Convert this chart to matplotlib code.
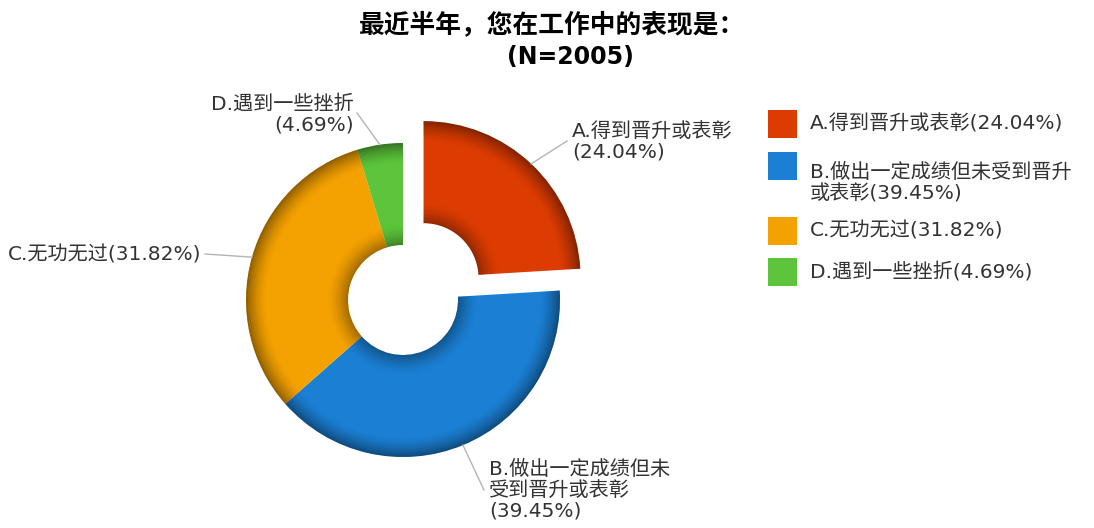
import matplotlib
matplotlib.use("Agg")
import matplotlib.pyplot as plt
from matplotlib.patches import Rectangle
import numpy as np

plt.rcParams['font.family'] = ['DejaVu Sans', 'Noto Sans CJK SC']

# ---------------- data ----------------
title = "最近半年，您在工作中的表现是："
subtitle = "(N=2005)"
categories = ["A.得到晋升或表彰", "B.做出一定成绩但未受到晋升或表彰", "C.无功无过", "D.遇到一些挫折"]
percentages = [24.04, 39.45, 31.82, 4.69]
colors = ["#DC3C02", "#1B80D4", "#F4A102", "#5CC53B"]

# ---------------- layout (pixel units) ----------------
W, H = 1094, 528
fig = plt.figure(figsize=(W / 100, H / 100), dpi=100)
ax = fig.add_axes([0, 0, 1, 1])


def py(y):
    return H - y


cx, cy = 403, 300
R, r_in = 157, 55
explode = [30, 0, 0, 0]
start = 90

# base donut
wedges, _ = ax.pie(percentages, colors=colors, startangle=start, counterclock=False,
                   radius=R, center=(cx, py(cy)), explode=explode,
                   wedgeprops=dict(width=R - r_in, linewidth=0), frame=True)

# bevel shading (dark bands near inner and outer edges)
N = 10
step = 2.0
for j in range(N):
    a = 0.40 * (1 - j / N) ** 1.6
    ax.pie(percentages, colors=['black'] * 4, startangle=start, counterclock=False,
           radius=R - j * step, center=(cx, py(cy)), explode=explode,
           wedgeprops=dict(width=step, linewidth=0, alpha=a), frame=True)
    ax.pie(percentages, colors=['black'] * 4, startangle=start, counterclock=False,
           radius=r_in + (j + 1) * step, center=(cx, py(cy)), explode=explode,
           wedgeprops=dict(width=step, linewidth=0, alpha=a * 0.8), frame=True)

ax.set_xlim(0, W)
ax.set_ylim(0, H)
ax.set_aspect('equal')
ax.axis('off')

# mid angles for leader lines
fr = np.array(percentages) / sum(percentages)
ends = start - np.cumsum(fr) * 360
starts = ends + fr * 360
mids = np.deg2rad((starts + ends) / 2)

txt_color = "#333333"
fs = 14.5
line_color = "#b4b4b4"

pct_txt = [f"({p:.2f}%)" for p in percentages]
slice_labels = [
    categories[0] + "\n" + pct_txt[0],
    categories[1][:10] + "\n" + categories[1][10:] + "\n" + pct_txt[1],
    categories[2] + pct_txt[2],
    categories[3] + "\n" + pct_txt[3],
]
# (elbow point, text x, text y, ha)
label_layout = [
    ((567, 141), 572, 142, 'left'),
    ((484, 490), 489, 490, 'left'),
    ((205, 254), 201, 255, 'right'),
    ((357, 113), 354, 115, 'right'),
]
for i, (lab, (elb, tx, ty, ha)) in enumerate(zip(slice_labels, label_layout)):
    off = explode[i]
    sx = cx + (R + off) * np.cos(mids[i])
    sy = cy - (R + off) * np.sin(mids[i])
    ax.plot([sx, elb[0]], [py(sy), py(elb[1])], color=line_color, lw=1.0, zorder=1)
    ax.text(tx, py(ty), lab, ha=ha, va='center', fontsize=fs, color=txt_color,
            linespacing=1.12, multialignment=ha)

# title
ax.text(552, py(25), title, ha='center', va='center', fontsize=18.5, fontweight='bold', color='black')
ax.text(570, py(57), subtitle, ha='center', va='center', fontsize=17, fontweight='bold', color='black')

# legend
leg_labels = [categories[0] + pct_txt[0],
              categories[1][:14] + "\n" + categories[1][14:] + pct_txt[1],
              categories[2] + pct_txt[2],
              categories[3] + pct_txt[3]]
leg_y = [124, 166, 231, 272]
leg_text_y = [124, 183, 231, 272]
for lab, c, y, ty in zip(leg_labels, colors, leg_y, leg_text_y):
    ax.add_patch(Rectangle((768, py(y + 14)), 29, 28, facecolor=c, edgecolor='none'))
    ax.text(810, py(ty), lab, ha='left', va='center', fontsize=fs, color=txt_color,
            linespacing=1.12)

fig.savefig("out.png", dpi=100)
